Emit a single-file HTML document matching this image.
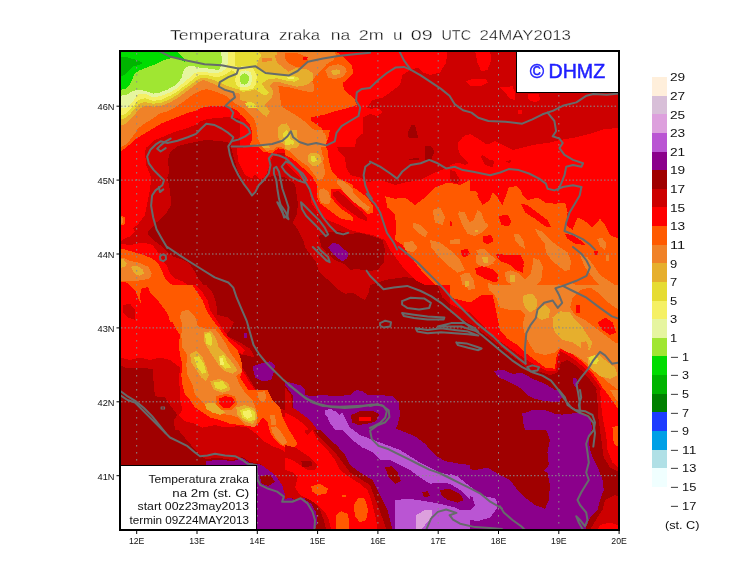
<!DOCTYPE html>
<html lang="hr"><head><meta charset="utf-8"><title>Temperatura zraka na 2m</title>
<style>
html,body{margin:0;padding:0;background:#fff;}
body{width:740px;height:582px;overflow:hidden;font-family:"Liberation Sans",sans-serif;}
svg{display:block;will-change:transform;}
svg text{font-family:"Liberation Sans",sans-serif;}
</style></head><body>
<svg width="740" height="582" viewBox="0 0 740 582">
<rect width="740" height="582" fill="#fff"/>
<defs><clipPath id="mapclip"><rect x="120" y="51" width="499" height="479"/></clipPath></defs>
<g clip-path="url(#mapclip)" shape-rendering="crispEdges">
<rect x="120" y="51" width="499" height="479" fill="#a00000"/>
<polygon fill="#8b008b" points="493.8,371.2 502.5,369.5 512.5,373.8 522.5,373.0 532.5,378.8 545.0,383.8 555.0,390.0 561.2,395.0 560.0,402.0 550.0,401.2 537.5,398.8 527.5,393.8 517.5,386.2 507.5,381.2 498.8,377.5"/>
<polygon fill="#8b008b" points="522.5,413.8 532.5,410.0 545.0,410.0 557.5,415.0 570.0,413.8 580.0,412.5 590.0,417.5 592.5,430.0 525.0,430.0 522.5,420.0"/>
<polygon fill="#8b008b" points="572.5,377.5 576.2,378.0 578.8,383.8 576.2,387.5 573.0,383.8"/>
<polygon fill="#8b008b" points="285.0,381.2 295.0,383.8 300.0,392.5 310.0,396.2 322.5,395.0 335.0,396.2 350.0,395.0 356.2,390.0 362.5,391.2 367.5,395.0 380.0,395.0 392.5,396.2 398.8,402.5 400.0,415.0 397.5,425.0 395.0,430.0 317.5,430.0 310.0,420.0 300.0,412.5 292.5,407.5 292.5,395.0 285.0,385.0"/>
<polygon fill="#8b008b" points="252.5,366.2 260.0,363.8 270.0,361.2 275.0,365.0 273.8,372.5 271.2,380.0 262.5,381.2 255.0,377.5"/>
<polygon fill="#8b008b" points="243.8,332.5 247.0,332.5 247.0,337.5 243.8,337.5"/>
<polygon fill="#8b008b" points="206.2,461.2 220.0,459.5 232.5,461.2 242.5,458.0 250.0,463.0 260.0,464.5 267.5,467.5 275.0,475.0 282.5,485.0 285.0,495.0 295.0,500.0 305.0,497.5 305.0,535.0 256.2,535.0 256.2,465.0 206.2,465.0"/>
<polygon fill="#8b008b" points="292.5,383.8 300.0,385.0 305.0,390.0 305.0,412.5 298.8,408.8 295.0,400.0 292.5,392.5"/>
<polygon fill="#8b008b" points="285.0,381.2 295.0,383.8 300.0,392.5 310.0,396.2 322.5,395.0 335.0,396.2 350.0,395.0 356.2,390.0 362.5,391.2 367.5,395.0 380.0,395.0 392.5,396.2 398.8,402.5 400.0,415.0 392.5,427.5 402.5,431.2 415.0,436.2 425.0,443.8 435.0,455.0 445.0,461.2 460.0,463.8 470.0,465.0 470.0,530.0 392.5,530.0 390.0,520.0 387.5,510.0 382.5,500.0 377.5,490.0 372.5,480.0 360.0,472.5 350.0,465.0 345.0,455.0 337.5,446.2 327.5,437.5 317.5,427.5 312.5,417.5 302.5,411.2 292.5,405.0 292.5,395.0"/>
<polygon fill="#8b008b" points="285.0,502.5 295.0,500.0 303.8,498.8 311.2,503.8 316.2,512.5 317.5,522.5 315.0,530.0 285.0,530.0"/>
<polygon fill="#8b008b" points="522.5,390.0 560.0,390.0 562.5,397.5 557.5,402.0 545.0,401.2 535.0,398.8 527.5,395.0"/>
<polygon fill="#8b008b" points="521.2,413.8 532.5,411.2 545.0,410.0 555.0,413.8 565.0,415.0 580.0,412.5 588.8,417.5 591.2,430.0 588.8,440.0 590.0,450.0 593.8,460.0 598.8,470.0 602.5,480.0 603.8,490.0 600.0,500.0 597.5,510.0 590.0,517.5 585.0,530.0 450.0,530.0 450.0,465.0 460.0,467.5 475.0,470.0 487.5,467.5 500.0,475.0 510.0,480.0 517.5,490.0 525.0,497.5 535.0,505.0 545.0,508.8 548.8,500.0 550.0,485.0 547.5,472.5 543.8,471.2 548.8,465.0 547.5,452.5 550.0,440.0 546.2,430.0 537.5,425.0 530.0,423.8 523.8,418.8"/>
<polygon fill="#ba55d3" points="325.0,410.0 331.2,408.8 338.8,415.0 342.5,412.5 346.2,420.0 351.2,430.0 335.0,430.0 328.8,421.2"/>
<polygon fill="#ba55d3" points="325.0,410.0 331.2,412.5 336.2,411.2 341.2,417.5 350.0,427.5 360.0,435.0 370.0,438.8 380.0,442.5 390.0,446.2 400.0,450.0 410.0,456.2 420.0,462.5 430.0,467.5 440.0,472.5 450.0,475.0 460.0,480.0 470.0,487.5 470.0,500.0 460.0,490.0 450.0,483.8 440.0,482.5 430.0,483.8 420.0,477.5 410.0,470.0 400.0,465.0 390.0,460.0 380.0,460.0 372.5,452.5 362.5,447.5 352.5,440.0 345.0,432.5 337.5,425.0 330.0,420.0 325.0,415.0"/>
<polygon fill="#ba55d3" points="395.0,500.0 410.0,498.8 425.0,501.2 440.0,503.8 455.0,507.5 470.0,515.0 470.0,530.0 395.0,530.0"/>
<polygon fill="#ba55d3" points="450.0,473.8 457.5,476.2 465.0,482.5 475.0,490.0 485.0,496.2 496.2,498.8 497.5,507.5 490.0,517.5 477.5,521.2 465.0,518.8 455.0,515.0 450.0,513.8 450.0,507.5 460.0,510.0 470.0,510.0 475.0,505.0 472.5,497.5 465.0,492.5 457.5,486.2 450.0,482.5"/>
<polygon fill="#dda0dd" points="416.2,515.0 425.0,510.0 432.5,510.0 431.2,517.5 425.0,525.0 421.2,530.0 416.2,530.0"/>
<polygon fill="#cd0000" points="120.0,140.0 170.0,140.0 168.0,155.0 168.8,172.5 167.5,177.5 170.0,190.0 171.2,205.0 165.0,215.0 155.0,223.8 147.5,232.5 145.0,236.2 152.5,240.0 160.0,247.5 167.5,257.5 170.0,265.0 173.8,275.0 185.0,278.8 197.5,285.0 120.0,285.0"/>
<polygon fill="#cd0000" points="450.0,285.0 450.0,312.5 460.0,317.5 472.5,325.0 482.5,332.5 495.0,342.5 507.5,352.5 517.5,360.0 527.5,368.8 537.5,371.2 550.0,375.0 557.5,372.5 561.2,362.5 567.5,360.0 575.0,365.0 582.5,371.2 590.0,380.0 597.5,390.0 602.5,400.0 606.2,410.0 610.0,420.0 612.5,430.0 635.0,430.0 635.0,285.0"/>
<polygon fill="#cd0000" points="333.8,285.0 370.0,285.0 368.8,292.5 365.0,300.0 360.0,297.5 352.5,292.5 345.0,293.8 338.8,290.0"/>
<polygon fill="#cd0000" points="437.5,285.0 470.0,285.0 470.0,320.0 460.0,312.5 450.0,305.0 442.5,297.5"/>
<polygon fill="#cd0000" points="285.0,387.5 291.2,395.0 292.5,407.5 300.0,412.5 310.0,420.0 317.5,430.0 285.0,430.0"/>
<polygon fill="#cd0000" points="120.0,285.0 206.2,285.0 212.5,292.5 216.2,302.5 217.5,315.0 227.5,317.5 233.8,322.5 230.0,330.0 225.0,335.0 232.5,338.8 240.0,342.5 250.0,348.8 255.0,357.5 245.0,355.0 235.0,353.8 233.8,360.0 240.0,365.0 245.0,371.2 250.0,380.0 256.2,390.0 265.0,391.2 267.5,397.5 270.0,405.0 275.0,407.5 282.5,412.5 285.0,425.0 290.0,430.0 175.0,430.0 173.8,420.0 177.5,415.0 170.0,405.0 165.0,397.5 155.0,396.2 153.8,385.0 152.5,368.8 132.5,367.5 125.0,367.5 120.0,365.0"/>
<polygon fill="#cd0000" points="155.0,396.2 165.0,397.5 170.0,405.0 177.5,415.0 173.8,420.0 176.2,427.5 182.5,435.0 190.0,443.8 197.5,452.5 205.0,458.8 220.0,458.0 232.5,460.0 242.5,457.0 250.0,462.0 260.0,463.8 270.0,471.2 277.5,477.5 282.5,486.2 285.0,495.0 295.0,499.5 305.0,497.5 305.0,416.2 295.0,413.0 285.0,410.0 275.0,407.5 270.0,405.0 267.5,397.5 265.0,391.2 256.2,390.0 155.0,390.0"/>
<polygon fill="#cd0000" points="285.0,410.0 292.5,412.5 302.5,417.5 310.0,425.0 317.5,435.0 327.5,445.0 335.0,452.5 342.5,462.5 350.0,472.5 360.0,478.8 370.0,485.0 373.8,495.0 377.5,505.0 381.2,515.0 385.0,525.0 386.2,530.0 326.2,530.0 323.8,520.0 320.0,510.0 313.8,501.2 305.0,496.2 295.0,497.0 285.0,498.8"/>
<polygon fill="#cd0000" points="596.2,390.0 635.0,390.0 635.0,472.5 617.5,471.2 610.0,467.5 603.8,457.5 602.0,445.0 600.0,430.0 598.0,415.0 597.5,402.5"/>
<polygon fill="#cd0000" points="605.0,500.0 615.0,495.0 620.0,497.5 635.0,497.5 635.0,530.0 590.0,530.0 597.5,517.5 602.5,510.0"/>
<polygon fill="#cd0000" points="120.0,50.0 620.0,50.0 620.0,472.0 617.5,471.0 610.0,467.5 603.8,457.5 602.0,445.0 600.0,430.0 598.0,415.0 597.5,402.5 597.5,390.0 590.0,380.0 582.5,371.0 575.0,365.0 567.5,360.0 561.0,362.5 557.5,372.5 550.0,375.0 537.5,371.0 527.5,369.0 517.5,360.0 507.5,352.5 495.0,342.5 482.5,332.5 472.5,325.0 470.0,320.0 460.0,312.5 450.0,305.0 442.5,297.5 437.5,285.0 425.0,280.0 405.0,277.0 385.0,280.0 370.0,285.0 368.8,292.5 365.0,300.0 360.0,297.5 352.5,292.5 345.0,293.8 338.8,290.0 333.8,285.0 319.2,272.0 315.7,261.4 310.4,254.4 305.0,247.3 303.4,240.3 298.0,229.8 292.8,222.7 296.4,215.7 298.0,205.0 296.4,192.8 295.0,184.0 285.0,177.5 275.0,175.0 267.5,177.5 262.5,182.5 256.0,190.0 251.0,196.0 247.5,190.0 242.5,180.0 237.5,170.0 233.0,155.0 230.0,143.0 220.0,141.0 205.0,140.0 192.5,142.5 177.5,146.0 170.0,152.5 168.0,160.0 120.0,160.0"/>
<polygon fill="#cd0000" points="120.0,225.0 150.8,225.0 147.5,234.2 153.3,240.0 160.0,245.0 166.7,251.7 173.3,256.7 181.7,259.2 188.3,262.5 193.3,269.2 198.3,278.3 205.0,286.7 211.7,293.3 215.8,301.7 215.0,311.7 216.7,322.0 120.0,322.0"/>
<polygon fill="#ff0000" points="120.0,50.0 243.0,50.0 243.0,120.0 231.7,116.7 223.3,117.5 215.0,118.0 206.7,119.2 200.0,121.7 195.0,125.0 186.7,128.3 175.0,131.7 163.3,136.7 153.3,140.8 147.5,147.0 120.0,147.0"/>
<polygon fill="#ff0000" points="120.0,140.0 147.5,140.0 145.0,152.5 146.2,165.0 151.2,177.5 150.0,190.0 147.5,202.5 145.0,215.0 137.5,225.0 126.2,232.5 122.5,238.8 120.0,240.0"/>
<polygon fill="#ff0000" points="120.0,243.8 130.0,245.0 142.5,242.5 152.5,245.0 160.0,255.0 165.0,265.0 168.8,275.0 170.0,285.0 120.0,285.0"/>
<polygon fill="#ff0000" points="285.0,140.0 335.0,140.0 337.5,150.0 345.0,157.5 346.2,167.5 350.5,175.0 360.0,177.5 367.5,182.0 380.0,180.0 395.0,185.0 405.0,182.5 420.0,180.0 435.0,172.5 447.5,167.5 460.0,168.8 470.0,171.2 470.0,285.0 425.0,285.0 415.0,280.0 405.0,270.0 397.5,260.0 390.0,250.0 385.0,240.0 372.5,235.0 360.0,232.5 350.0,230.0 340.0,225.0 327.5,220.0 317.5,212.5 311.2,202.5 310.0,192.5 305.0,182.5 295.0,172.5 285.0,162.5"/>
<polygon fill="#ff0000" points="340.0,50.0 447.5,50.0 446.2,62.5 440.0,72.5 430.0,75.0 422.5,72.5 417.5,67.5 410.0,70.0 402.5,75.0 400.0,85.0 390.0,92.5 382.5,97.5 372.5,100.0 367.5,107.5 377.5,111.2 377.5,116.2 370.0,113.8 362.5,117.5 355.0,125.0 347.5,122.5 340.0,125.0"/>
<polygon fill="#ff0000" points="372.5,107.5 380.0,108.8 382.5,112.5 377.5,115.5 373.8,112.5"/>
<polygon fill="#ff0000" points="457.5,145.0 462.5,137.5 470.0,133.8 480.0,140.0 487.5,145.0 495.0,141.2 502.5,145.0 512.5,150.0 525.0,147.5 525.0,167.5 515.0,165.0 510.0,160.0 502.5,162.5 490.0,160.0 482.5,155.0 475.0,160.0 465.0,157.5 460.0,152.5"/>
<polygon fill="#ff0000" points="635.0,127.5 605.0,128.8 590.0,133.8 575.0,137.5 560.0,140.0 550.0,142.5 532.5,145.0 522.5,147.5 512.5,150.0 511.2,163.8 503.8,161.2 497.5,156.2 496.2,167.5 487.5,170.0 475.0,171.2 462.5,168.8 450.0,166.2 450.0,195.0 635.0,195.0"/>
<polygon fill="#ff0000" points="457.5,142.5 465.0,135.0 472.5,136.2 475.0,145.0 480.0,155.0 485.0,165.0 475.0,167.5 465.0,160.0 458.8,152.5"/>
<polygon fill="#ff0000" points="485.0,145.0 492.5,142.5 496.2,150.0 495.0,160.0 490.0,157.5 486.2,150.0"/>
<polygon fill="#ff0000" points="475.0,50.0 490.0,50.0 491.2,60.0 487.5,70.0 481.2,71.2 477.5,62.5"/>
<polygon fill="#ff0000" points="466.2,81.2 472.5,78.8 486.2,79.5 488.0,82.5 482.5,85.5 470.0,85.5"/>
<polygon fill="#ff0000" points="500.0,87.5 512.5,86.2 515.0,92.5 515.0,100.0 510.0,98.8 505.0,92.5"/>
<polygon fill="#ff0000" points="527.5,93.8 538.8,93.8 540.0,100.0 535.0,102.5 528.8,100.0"/>
<polygon fill="#ff0000" points="517.5,110.0 522.5,109.5 522.0,113.8 518.0,113.8"/>
<polygon fill="#ff0000" points="450.0,285.0 450.0,303.8 460.0,308.8 470.0,312.5 480.0,322.5 490.0,332.5 500.0,341.2 512.5,350.0 525.0,358.8 535.0,365.0 547.5,371.2 556.2,371.2 557.5,360.0 560.0,351.2 567.5,355.0 575.0,360.0 582.5,366.2 590.0,373.8 597.5,383.8 605.0,395.0 610.0,405.0 615.0,415.0 618.8,425.0 620.0,430.0 635.0,430.0 635.0,285.0"/>
<polygon fill="#ff0000" points="441.2,285.0 470.0,285.0 470.0,310.0 460.0,305.0 450.0,297.5"/>
<polygon fill="#ff0000" points="285.0,412.5 295.0,417.5 305.0,425.0 308.8,430.0 285.0,430.0"/>
<polygon fill="#ff0000" points="120.0,285.0 195.0,285.0 202.5,292.5 207.5,300.0 210.0,310.0 215.0,317.5 220.0,325.0 225.0,332.5 230.0,338.8 237.5,343.8 245.0,350.0 242.5,353.8 233.8,352.5 232.5,360.0 238.8,365.0 243.8,372.5 248.8,381.2 255.0,390.0 263.8,390.0 266.2,395.0 267.5,402.5 270.0,405.0 272.5,410.0 280.0,415.0 282.5,425.0 285.0,430.0 256.2,430.0 247.5,427.5 237.5,426.2 225.0,427.5 215.0,425.0 202.5,427.5 195.0,423.8 185.0,421.2 178.8,415.0 182.5,410.0 180.0,400.0 180.0,390.0 178.8,380.0 180.0,367.5 170.0,360.0 160.0,357.5 150.0,360.0 140.0,357.5 130.0,360.0 120.0,357.5"/>
<polygon fill="#ff0000" points="182.5,390.0 180.0,400.0 182.5,410.0 178.8,415.0 185.0,421.2 195.0,423.8 202.5,427.5 215.0,425.0 225.0,427.5 237.5,426.2 247.5,427.5 256.2,433.8 263.8,441.2 272.5,446.2 282.5,450.0 290.0,456.2 300.0,458.8 305.0,456.2 305.0,425.0 295.0,421.2 285.0,417.5 280.0,415.0 272.5,410.0 270.0,405.0 267.5,402.5 266.2,395.0 263.8,390.0"/>
<polygon fill="#ff0000" points="285.0,417.5 292.5,422.5 300.0,427.5 307.5,435.0 312.5,430.0 317.5,440.0 327.5,450.0 335.0,460.0 340.0,470.0 350.0,477.5 360.0,483.8 367.5,490.0 371.2,500.0 373.8,510.0 376.2,520.0 377.5,530.0 331.2,530.0 328.8,520.0 325.0,512.5 317.5,505.0 310.0,500.0 300.0,495.0 295.0,487.5 297.5,477.5 292.5,472.5 285.0,470.0"/>
<polygon fill="#ff0000" points="600.0,390.0 635.0,390.0 635.0,470.0 620.0,468.8 612.5,462.5 607.5,450.0 606.2,435.0 603.0,420.0 601.2,405.0"/>
<polygon fill="#ff0000" points="600.0,525.0 610.0,522.5 617.5,525.0 635.0,525.0 635.0,530.0 597.5,530.0"/>
<polygon fill="#ff0000" points="245.8,130.0 336.7,130.0 338.3,136.7 336.7,143.3 338.3,151.7 341.7,160.0 345.0,168.3 350.0,175.0 353.0,177.5 353.0,225.8 346.7,224.2 338.3,221.7 330.0,216.7 323.3,211.7 316.7,205.0 313.3,196.7 315.0,188.3 314.2,180.0 311.7,173.3 306.7,167.5 300.0,163.3 293.3,157.5 286.7,153.3 280.0,152.5 273.3,155.0 270.8,160.0 269.2,166.7 266.7,173.3 263.3,178.3 259.2,179.2 255.0,174.2 250.0,168.3 245.8,161.7 244.2,155.0 243.3,146.7 239.2,137.5"/>
<polygon fill="#ff0000" points="120.0,225.0 131.7,225.0 135.0,231.7 130.0,236.7 125.0,238.3 120.0,241.7"/>
<polygon fill="#ff0000" points="120.0,246.7 130.0,248.3 138.3,250.0 146.7,251.7 155.0,255.0 161.7,260.0 166.7,265.0 170.0,273.3 175.0,278.3 183.3,281.7 190.0,286.7 195.0,295.0 201.7,300.0 206.7,308.3 208.3,316.7 209.2,322.0 141.7,322.0 140.0,318.3 135.0,311.7 128.3,303.3 123.3,305.0 120.0,308.3"/>
<polygon fill="#ff0000" points="450.0,165.0 457.5,162.5 465.0,165.0 475.0,160.0 480.0,157.5 485.0,165.0 492.5,167.5 495.0,160.0 496.2,155.0 500.0,162.5 507.5,165.0 512.5,160.0 512.5,150.0 635.0,150.0 635.0,295.0 450.0,295.0"/>
<polygon fill="#ff0000" points="240.0,50.0 363.0,50.0 363.0,133.3 356.7,138.3 355.0,147.0 240.0,147.0"/>
<polygon fill="#ff0000" points="236.7,148.1 255.3,148.1 262.1,154.9 258.7,168.4 251.9,178.6 245.2,175.2 238.4,161.6"/>
<polygon fill="#ff5a00" points="120.0,50.0 243.0,50.0 243.0,116.7 239.2,112.5 235.0,109.2 226.7,106.3 220.0,105.8 213.3,105.8 206.7,106.7 200.0,108.3 195.0,110.8 186.7,113.3 178.3,116.7 170.0,120.0 161.7,123.3 153.3,128.3 145.0,133.3 136.7,138.3 130.0,144.2 125.0,148.3 120.0,151.7"/>
<polygon fill="#ff5a00" points="240.0,50.0 333.3,50.0 343.3,56.7 351.7,65.0 353.3,73.3 348.3,78.3 342.5,83.3 344.2,90.0 350.0,95.0 355.0,100.0 356.7,105.0 346.7,108.3 333.3,111.7 323.3,115.0 311.7,117.0 310.3,120.0 315.0,123.3 321.7,128.3 325.0,133.3 326.7,140.0 325.8,147.0 252.5,147.0 250.0,144.7 251.7,140.0 252.0,132.0 250.0,125.0 243.5,117.0 240.0,114.2"/>
<polygon fill="#ff5a00" points="120.0,215.0 124.5,217.0 125.0,223.8 120.0,226.2"/>
<polygon fill="#ff5a00" points="285.0,140.0 322.5,140.0 327.5,150.0 328.8,160.0 331.2,170.0 337.5,177.5 347.5,183.8 357.5,190.0 367.5,197.5 372.5,205.0 372.5,212.5 365.0,215.0 355.0,212.5 345.0,215.0 335.0,207.5 327.5,205.0 320.0,202.5 317.5,195.0 318.8,187.5 312.5,177.5 302.5,167.5 292.5,158.8 285.0,155.0"/>
<polygon fill="#ff5a00" points="385.0,196.2 395.0,198.8 405.0,197.5 415.0,205.0 425.0,197.5 435.0,187.5 447.5,182.5 460.0,185.0 470.0,180.0 470.0,285.0 435.0,285.0 425.0,275.0 415.0,262.5 407.5,252.5 402.5,245.0 395.0,240.0 396.2,227.5 395.0,215.0 387.5,207.5"/>
<polygon fill="#ff5a00" points="507.5,195.0 510.0,187.5 516.2,186.2 521.2,191.2 522.5,195.0"/>
<polygon fill="#ff5a00" points="467.5,195.0 470.0,191.2 476.2,191.2 478.8,195.0"/>
<polygon fill="#ff5a00" points="450.0,193.8 457.5,200.0 465.0,205.0 472.5,191.2 477.5,196.2 482.5,205.0 490.0,200.0 492.5,192.5 497.5,197.5 502.5,205.0 508.8,187.5 515.0,186.2 522.5,195.0 527.5,200.0 537.5,197.5 545.0,202.5 555.0,203.8 565.0,202.5 567.5,212.5 566.2,225.0 572.5,230.0 577.5,217.5 585.0,221.2 592.5,227.5 600.0,218.8 605.0,225.0 610.0,235.0 618.8,238.8 635.0,240.0 635.0,295.0 450.0,295.0"/>
<polygon fill="#ff5a00" points="450.0,285.0 450.0,297.5 460.0,300.0 470.0,302.5 477.5,297.5 485.0,292.5 492.5,295.0 495.0,305.0 497.5,317.5 500.0,330.0 507.5,338.8 517.5,345.0 525.0,352.5 535.0,360.0 545.0,367.5 555.0,368.8 556.2,357.5 560.0,348.8 570.0,352.5 580.0,360.0 587.5,367.5 595.0,376.2 602.5,387.5 610.0,397.5 618.8,410.0 625.0,420.0 630.0,430.0 635.0,430.0 635.0,285.0"/>
<polygon fill="#ff5a00" points="457.5,285.0 470.0,285.0 470.0,295.0 465.0,291.2"/>
<polygon fill="#ff5a00" points="147.5,285.0 192.5,285.0 197.5,292.5 202.5,300.0 206.2,310.0 212.5,320.0 218.8,327.5 223.8,335.0 230.0,342.5 237.5,350.0 241.2,360.0 242.5,370.0 240.0,377.5 245.0,385.0 250.0,392.5 260.0,391.2 265.0,395.0 262.5,402.5 266.2,410.0 270.0,417.5 267.5,422.5 262.5,417.5 257.5,425.0 250.0,426.2 240.0,425.0 230.0,423.8 220.0,420.0 210.0,417.5 202.5,412.5 195.0,407.5 190.0,400.0 185.0,395.0 182.5,385.0 181.2,375.0 182.5,365.0 180.0,355.0 178.8,345.0 180.0,335.0 175.0,327.5 170.0,317.5 165.0,310.0 157.5,300.0 150.0,292.5"/>
<polygon fill="#ff5a00" points="192.5,390.0 190.0,400.0 195.0,407.5 202.5,412.5 210.0,417.5 220.0,420.0 230.0,423.8 240.0,425.0 250.0,426.2 257.5,425.0 262.5,417.5 267.5,422.5 270.0,432.5 275.0,440.0 282.5,446.2 292.5,448.8 297.5,443.8 292.5,435.0 287.5,427.5 282.5,417.5 280.0,407.5 272.5,400.0 267.5,390.0"/>
<polygon fill="#ff5a00" points="311.2,486.2 320.0,483.8 328.0,488.8 326.2,493.8 317.5,495.0 312.0,491.2"/>
<polygon fill="#ff5a00" points="336.2,515.0 341.2,511.2 347.5,513.8 349.5,522.5 348.8,530.0 336.2,530.0"/>
<polygon fill="#ff5a00" points="353.8,505.0 358.8,497.5 365.0,498.8 368.0,510.0 366.2,520.0 360.0,522.5 355.0,516.2"/>
<polygon fill="#ff5a00" points="342.0,495.0 346.2,495.0 346.2,497.0 342.0,497.0"/>
<polygon fill="#ff5a00" points="285.0,438.8 288.0,440.0 288.8,443.8 285.0,446.2"/>
<polygon fill="#ff5a00" points="605.0,390.0 635.0,390.0 635.0,410.0 620.0,408.8 615.0,402.5 610.0,397.5"/>
<polygon fill="#ff5a00" points="612.5,427.5 620.0,425.0 620.0,447.5 615.0,445.0 612.5,437.5"/>
<polygon fill="#ff5a00" points="251.7,130.0 330.0,130.0 328.3,138.3 325.0,146.7 326.7,155.0 328.3,163.3 330.0,171.7 336.7,178.3 346.7,181.7 353.0,185.0 353.0,220.8 346.7,220.0 340.0,218.3 333.3,213.3 326.7,208.3 320.0,203.3 316.7,196.7 317.5,186.7 316.7,178.3 313.3,170.0 308.3,165.0 301.7,161.7 295.0,155.0 286.7,150.0 278.3,148.3 271.7,153.3 263.3,151.7 256.7,145.8 253.3,138.3"/>
<polygon fill="#ff5a00" points="120.0,248.3 126.7,250.0 135.0,252.5 143.3,255.0 151.7,258.3 158.3,263.3 161.7,270.0 165.0,278.3 170.0,283.3 176.7,286.7 183.3,291.7 190.0,298.3 195.0,305.0 196.7,313.3 197.5,322.0 170.0,322.0 168.3,315.0 165.0,308.3 160.0,300.0 156.7,291.7 150.0,286.7 141.7,288.3 140.0,295.0 140.8,303.3 138.3,298.3 135.8,291.7 130.0,285.0 125.0,281.7 120.0,281.7"/>
<polygon fill="#f08228" points="120.0,50.0 243.0,50.0 243.0,108.3 239.2,105.8 235.0,103.3 230.0,99.2 226.7,96.3 220.0,93.3 213.3,90.8 206.7,89.2 201.7,90.0 196.7,92.5 190.0,96.7 183.3,101.7 175.0,107.5 166.7,111.7 160.0,113.3 153.3,118.3 145.0,123.3 138.3,128.3 135.0,133.3 130.0,140.0 125.0,145.0 120.0,147.8"/>
<polygon fill="#f08228" points="240.0,50.0 333.3,50.0 335.8,55.0 333.3,60.0 326.7,64.2 323.3,68.3 316.7,75.0 311.7,80.8 314.2,85.8 313.3,92.5 303.3,90.8 290.0,87.5 278.3,85.8 280.0,96.7 281.7,106.7 290.0,111.7 298.3,116.7 305.0,121.7 311.7,128.3 318.3,131.7 325.0,133.3 326.7,140.0 325.8,147.0 262.0,147.0 259.7,142.0 258.5,134.7 256.7,127.3 254.7,119.8 249.7,113.7 243.0,108.0 240.0,106.3"/>
<polygon fill="#f08228" points="325.0,70.0 330.0,65.8 338.3,64.2 345.0,66.7 346.7,71.7 343.3,76.7 335.0,79.2 328.3,77.5"/>
<polygon fill="#f08228" points="120.0,217.0 123.0,218.0 123.0,223.0 120.0,224.5"/>
<polygon fill="#f08228" points="306.2,150.0 317.5,148.8 323.8,157.5 322.5,167.5 325.0,175.0 320.0,177.5 312.5,170.0 307.5,162.5"/>
<polygon fill="#f08228" points="320.0,191.2 326.2,190.0 328.8,197.5 326.2,203.8 321.2,202.5 318.8,196.2"/>
<polygon fill="#f08228" points="341.2,182.5 347.5,183.8 352.5,192.5 360.0,200.0 370.0,207.5 367.5,211.2 357.5,205.0 347.5,197.5 342.5,190.0"/>
<polygon fill="#f08228" points="412.5,222.5 420.0,225.0 427.5,232.5 425.0,237.5 417.5,232.5 412.5,227.5"/>
<polygon fill="#f08228" points="403.8,242.5 412.5,241.2 417.5,247.5 412.5,252.5 405.0,250.0"/>
<polygon fill="#f08228" points="432.5,210.0 440.0,207.5 445.0,217.5 442.5,225.0 435.0,222.5"/>
<polygon fill="#f08228" points="430.0,240.0 440.0,242.5 450.0,250.0 460.0,260.0 465.0,270.0 457.5,272.5 447.5,265.0 437.5,255.0 431.2,247.5"/>
<polygon fill="#f08228" points="457.5,212.5 465.0,215.0 470.0,222.5 470.0,230.0 462.5,225.0"/>
<polygon fill="#f08228" points="450.0,240.0 460.0,238.8 460.0,243.8 451.2,243.8"/>
<polygon fill="#f08228" points="460.0,275.0 470.0,272.5 470.0,285.0 462.5,285.0"/>
<polygon fill="#f08228" points="458.8,211.2 465.0,212.5 468.8,222.5 473.8,220.0 477.5,210.0 481.2,212.5 485.0,222.5 488.8,225.0 482.5,232.5 475.0,236.2 467.5,233.8 462.5,225.0"/>
<polygon fill="#f08228" points="450.0,240.0 457.5,239.5 458.8,243.0 450.0,243.8"/>
<polygon fill="#f08228" points="513.8,233.8 518.8,233.8 523.8,241.2 525.0,248.8 520.0,246.2 515.0,240.0"/>
<polygon fill="#f08228" points="535.0,228.8 541.2,231.2 550.0,240.0 560.0,247.5 567.5,252.5 570.0,260.0 567.5,267.5 560.0,265.0 552.5,260.0 546.2,252.5 545.0,243.8 538.8,236.2"/>
<polygon fill="#f08228" points="476.2,250.0 483.8,248.8 490.0,255.0 493.8,263.8 487.5,265.0 480.0,260.0"/>
<polygon fill="#f08228" points="450.0,256.2 457.5,260.0 462.5,265.0 460.0,268.8 452.5,267.5 450.0,266.2"/>
<polygon fill="#f08228" points="532.5,257.5 537.5,260.0 542.5,270.0 541.2,280.0 535.0,286.2 530.0,280.0 532.5,270.0"/>
<polygon fill="#f08228" points="506.2,273.8 515.0,272.5 522.5,277.5 520.0,283.8 511.2,283.8 506.2,278.8"/>
<polygon fill="#f08228" points="462.5,273.8 468.8,272.5 473.8,280.0 475.0,288.8 468.8,290.0 463.8,283.8"/>
<polygon fill="#f08228" points="487.5,282.5 495.0,286.2 500.0,293.8 495.0,295.0 488.8,290.0"/>
<polygon fill="#f08228" points="597.5,238.8 602.5,237.5 606.2,245.0 605.0,250.0 600.0,246.2"/>
<polygon fill="#f08228" points="580.0,255.0 587.5,257.5 595.0,267.5 600.0,275.0 607.5,280.0 615.0,285.0 615.0,295.0 607.5,295.0 600.0,286.2 592.5,277.5 585.0,267.5"/>
<polygon fill="#f08228" points="606.2,255.0 608.8,255.0 608.8,261.2 606.2,261.2"/>
<polygon fill="#f08228" points="567.5,282.5 575.0,283.8 577.5,288.8 570.0,290.0"/>
<polygon fill="#f08228" points="487.5,285.0 635.0,285.0 635.0,317.5 625.0,312.5 615.0,307.5 605.0,300.0 597.5,292.5 590.0,287.5 580.0,290.0 572.5,297.5 570.0,307.5 575.0,315.0 585.0,320.0 595.0,327.5 605.0,335.0 615.0,342.5 625.0,345.0 635.0,347.5 635.0,402.5 625.0,395.0 615.0,387.5 605.0,380.0 597.5,372.5 590.0,366.2 582.5,360.0 575.0,355.0 565.0,351.2 560.0,347.5 555.0,352.5 545.0,355.0 535.0,352.5 530.0,345.0 525.0,335.0 522.5,325.0 525.0,315.0 520.0,310.0 510.0,310.0 500.0,307.5 496.2,297.5 490.0,290.0"/>
<polygon fill="#f08228" points="181.2,312.5 188.8,310.0 195.0,316.2 198.0,326.2 206.2,328.8 215.0,328.8 220.0,335.0 225.0,342.5 230.0,352.5 237.5,362.5 242.5,371.2 236.2,376.2 240.0,385.0 245.0,392.5 252.5,400.0 256.2,410.0 257.5,420.0 255.0,427.5 245.0,425.0 237.5,417.5 230.0,415.0 220.0,413.8 210.0,410.0 202.5,402.5 195.0,395.0 192.5,385.0 187.5,375.0 186.2,365.0 187.5,355.0 182.5,347.5 181.2,335.0 182.5,325.0 180.0,317.5"/>
<polygon fill="#f08228" points="257.5,392.5 265.0,391.2 266.2,397.5 263.8,402.5 258.8,400.0"/>
<polygon fill="#f08228" points="270.0,415.0 275.0,415.0 276.2,425.0 271.2,425.0"/>
<polygon fill="#f08228" points="271.2,427.5 276.2,426.2 282.5,433.8 287.5,442.5 282.5,445.0 276.2,438.8 272.5,432.5"/>
<polygon fill="#f08228" points="610.0,390.0 635.0,390.0 635.0,401.2 617.5,401.2 613.8,396.2"/>
<polygon fill="#f08228" points="256.7,130.0 323.3,130.0 323.3,138.3 320.8,146.7 322.5,155.0 323.3,163.3 325.0,171.7 323.3,178.3 318.3,180.0 313.3,173.3 308.3,166.7 303.3,163.3 296.7,158.3 290.0,151.7 283.3,148.3 278.3,145.8 273.3,150.0 266.7,150.8 261.7,146.7 258.3,140.0"/>
<polygon fill="#f08228" points="319.2,190.0 323.3,188.3 328.3,191.7 330.8,198.3 330.0,203.3 325.0,204.2 320.8,200.0 319.2,195.0"/>
<polygon fill="#f08228" points="336.7,180.0 343.3,180.8 350.0,186.7 353.0,190.0 353.0,196.7 346.7,194.2 341.7,188.3 337.5,184.2"/>
<polygon fill="#f08228" points="120.0,257.5 125.0,258.3 130.0,260.8 138.3,262.5 148.3,266.7 151.7,273.3 150.0,278.3 143.3,280.0 136.7,280.8 128.3,280.8 120.0,280.8"/>
<polygon fill="#f08228" points="181.7,311.7 186.7,310.0 191.7,313.3 193.3,322.0 181.7,322.0"/>
<polygon fill="#f08228" points="504.5,272.2 510.6,270.2 518.7,273.3 524.8,279.3 530.9,273.3 532.9,263.1 539.0,259.1 543.0,267.2 541.0,279.3 534.9,287.5 528.8,293.5 530.9,301.7 522.7,307.7 518.7,295.6 512.6,285.4 506.5,281.4"/>
<polygon fill="#f08228" points="476.1,255.0 490.3,255.0 496.4,259.1 490.3,265.1 482.2,267.2 476.1,263.1"/>
<polygon fill="#f08228" points="545.0,240.0 552.4,243.7 559.9,247.4 567.4,252.4 571.1,261.1 569.9,269.8 564.9,271.0 558.7,266.1 552.4,261.1 547.5,254.9 545.0,247.4"/>
<polygon fill="#f08228" points="597.2,238.7 602.2,238.1 605.9,242.4 606.5,248.7 603.4,247.4 599.1,243.7"/>
<polygon fill="#e6af2d" points="120.0,50.0 243.0,50.0 243.0,94.7 236.7,93.0 228.3,90.0 220.0,87.5 215.0,84.2 208.3,81.7 203.3,80.0 198.3,82.5 191.7,87.5 185.0,92.5 178.3,97.5 170.0,102.5 161.7,105.8 153.3,106.7 145.0,105.8 140.0,108.3 135.0,114.2 130.0,119.2 125.0,124.2 120.0,126.0"/>
<polygon fill="#e6af2d" points="330.8,70.8 336.7,69.2 340.8,70.8 339.2,74.2 333.3,75.0"/>
<polygon fill="#e6af2d" points="240.0,50.0 278.3,50.0 275.8,56.7 280.0,65.0 288.3,71.7 295.0,68.3 306.7,69.2 313.3,73.3 313.3,80.0 306.7,85.0 296.7,86.7 286.7,84.2 278.3,81.7 273.3,81.7 270.0,85.8 273.3,91.7 271.7,98.3 265.0,105.0 258.3,108.3 253.3,103.3 246.7,101.7 240.0,100.0"/>
<polygon fill="#e6af2d" points="277.5,128.3 281.7,124.2 286.7,123.3 290.0,128.3 291.7,136.7 290.0,143.3 285.0,145.0 280.0,141.7 277.5,135.0"/>
<polygon fill="#e6af2d" points="256.7,100.0 265.0,105.0 270.0,111.7 266.7,116.7 261.7,113.3 256.7,108.3"/>
<polygon fill="#e6af2d" points="308.8,153.8 316.2,152.5 320.0,158.8 317.5,165.0 311.2,163.8"/>
<polygon fill="#e6af2d" points="285.0,140.0 296.2,140.0 295.0,146.2 288.8,150.0 285.0,148.8"/>
<polygon fill="#e6af2d" points="482.5,257.5 487.5,257.0 488.0,262.5 483.8,263.0"/>
<polygon fill="#e6af2d" points="510.0,276.2 515.0,276.2 515.5,282.0 510.5,282.0"/>
<polygon fill="#e6af2d" points="465.0,281.2 468.8,280.8 469.2,286.2 465.5,286.8"/>
<polygon fill="#e6af2d" points="475.0,230.0 478.0,230.0 478.0,231.5 475.0,231.5"/>
<polygon fill="#e6af2d" points="523.8,295.0 532.5,293.8 537.5,300.0 536.2,308.8 530.0,312.5 525.0,307.5 522.5,300.0"/>
<polygon fill="#e6af2d" points="536.2,310.0 545.0,305.0 550.0,310.0 548.8,317.5 541.2,320.0 536.2,316.2"/>
<polygon fill="#e6af2d" points="552.5,317.5 560.0,311.2 570.0,312.5 575.0,320.0 582.5,327.5 587.5,335.0 592.5,342.5 590.0,350.0 580.0,347.5 572.5,342.5 562.5,340.0 555.0,332.5 552.5,325.0"/>
<polygon fill="#e6af2d" points="587.5,357.5 597.5,353.8 605.0,360.0 615.0,367.5 617.5,375.0 610.0,378.8 600.0,376.2 592.5,370.0 587.5,365.0"/>
<polygon fill="#e6af2d" points="203.8,332.5 211.2,331.2 216.2,338.8 218.8,347.5 225.0,353.8 231.2,361.2 237.5,370.0 232.5,373.8 225.0,371.2 218.8,365.0 213.8,357.5 208.8,350.0 203.8,341.2"/>
<polygon fill="#e6af2d" points="190.0,353.8 196.2,351.2 202.5,357.5 206.2,366.2 208.8,375.0 206.2,381.2 201.2,377.5 196.2,370.0 191.2,362.5"/>
<polygon fill="#e6af2d" points="210.0,381.2 220.0,378.8 228.8,383.8 230.0,390.0 222.5,392.5 213.8,390.0"/>
<polygon fill="#e6af2d" points="205.0,403.8 212.5,402.5 220.0,406.2 225.0,412.5 220.0,415.0 212.5,412.5 206.2,408.8"/>
<polygon fill="#e6af2d" points="236.2,407.5 245.0,405.0 255.0,408.8 257.5,417.5 252.5,423.8 243.8,421.2 237.5,415.0"/>
<polygon fill="#e6af2d" points="277.5,130.0 296.7,130.0 296.7,136.7 300.0,143.3 296.7,148.3 290.0,146.7 285.0,142.5 280.0,140.0 277.5,135.0"/>
<polygon fill="#e6af2d" points="307.5,155.0 313.3,152.5 320.0,155.0 321.7,161.7 318.3,165.8 312.5,165.8 308.3,161.7"/>
<polygon fill="#e6af2d" points="261.7,145.8 268.3,145.0 270.0,147.5 263.3,148.3"/>
<polygon fill="#e6af2d" points="120.0,258.3 123.3,259.2 126.7,263.3 125.0,266.7 120.0,268.3"/>
<polygon fill="#e6af2d" points="130.8,266.7 136.7,265.8 142.5,269.2 144.2,273.3 140.0,275.8 135.0,274.2"/>
<polygon fill="#e6af2d" points="482.2,257.0 487.2,257.4 487.8,261.5 483.2,262.1"/>
<polygon fill="#e6af2d" points="510.2,275.3 514.6,275.3 515.0,281.4 510.6,281.0"/>
<polygon fill="#e6dc32" points="120.0,50.0 243.0,50.0 243.0,90.0 236.7,89.2 226.7,85.8 218.3,82.0 213.3,80.0 206.7,78.0 201.7,77.5 196.7,80.0 190.0,85.3 183.3,90.0 177.5,94.7 170.0,99.2 161.7,102.5 153.3,103.7 145.0,102.0 139.2,103.7 135.0,108.3 130.0,114.2 125.0,118.3 120.0,119.8"/>
<polygon fill="#e6dc32" points="282.5,133.3 286.7,130.0 289.7,135.0 289.2,141.7 285.0,143.3"/>
<polygon fill="#e6dc32" points="245.0,103.3 250.0,101.7 255.0,104.2 256.7,107.5 250.0,108.3 246.7,106.7"/>
<polygon fill="#e6dc32" points="240.0,50.0 256.7,50.0 261.7,55.0 258.3,60.0 256.7,66.7 266.7,72.5 281.7,75.0 296.7,76.7 300.0,79.2 295.0,81.7 286.7,80.8 276.7,78.3 268.3,79.2 261.7,83.3 265.0,88.3 269.2,92.5 265.0,95.8 258.3,91.7 255.0,89.2 250.0,90.8 243.3,91.7 240.0,91.3"/>
<polygon fill="#e6dc32" points="310.8,156.2 315.0,155.5 316.2,160.5 312.0,161.2"/>
<polygon fill="#e6dc32" points="285.0,140.0 291.2,140.0 290.0,145.0 285.0,145.5"/>
<polygon fill="#e6dc32" points="588.8,357.5 595.0,355.0 598.8,360.0 596.2,364.5 590.5,363.0"/>
<polygon fill="#e6dc32" points="205.0,333.8 210.0,333.0 212.5,340.0 211.2,346.2 206.2,343.8"/>
<polygon fill="#e6dc32" points="193.8,357.5 198.8,356.2 203.8,363.8 206.2,372.5 202.5,373.8 197.5,367.5"/>
<polygon fill="#e6dc32" points="218.8,356.2 223.8,355.0 227.5,362.5 231.2,367.5 225.0,368.8 220.0,363.8"/>
<polygon fill="#e6dc32" points="213.8,382.5 222.5,381.2 227.5,387.5 221.2,390.0 215.0,387.5"/>
<polygon fill="#e6dc32" points="240.0,410.0 248.8,407.5 255.0,412.5 255.0,420.0 248.8,421.2 242.5,417.5"/>
<polygon fill="#e6dc32" points="282.5,133.3 287.5,132.5 290.0,138.3 294.2,141.7 293.3,145.0 288.3,143.3 285.0,139.2"/>
<polygon fill="#e6dc32" points="310.8,157.5 315.0,156.7 316.7,160.8 313.3,162.5 310.8,160.8"/>
<polygon fill="#f5f064" points="120.0,50.0 235.0,50.0 234.7,60.0 235.3,65.8 243.0,68.7 243.0,88.7 236.7,85.8 235.0,80.0 236.7,73.3 231.7,70.0 226.7,73.7 220.0,76.7 213.3,76.7 206.7,75.0 200.0,75.0 195.0,77.5 188.3,83.3 182.5,87.5 176.7,92.0 170.0,95.8 161.7,99.7 153.3,100.8 145.0,98.3 138.3,100.0 134.2,105.0 130.0,110.0 125.0,114.2 120.0,115.5"/>
<polygon fill="#f5f064" points="240.0,66.7 246.7,65.8 253.3,68.3 256.7,75.0 256.3,83.3 253.3,88.3 246.7,90.0 240.0,89.7"/>
<polygon fill="#f5f064" points="286.7,76.7 293.3,76.7 294.2,78.7 288.3,79.2"/>
<polygon fill="#f5f064" points="220.0,357.5 223.0,357.5 223.8,365.0 220.5,364.5"/>
<polygon fill="#f5f064" points="242.5,411.2 250.0,410.0 252.5,416.2 247.5,418.8 243.8,416.2"/>
<polygon fill="#e6f5a0" points="120.0,50.0 228.0,50.0 228.3,60.0 226.7,68.3 221.7,71.7 216.7,73.3 208.3,72.5 200.0,71.7 194.2,73.3 190.8,76.7 185.8,80.8 181.7,84.2 176.7,88.7 170.0,92.5 161.7,95.8 153.3,97.5 145.0,93.7 138.3,94.2 135.0,98.3 131.7,103.3 126.7,107.5 120.0,108.3"/>
<polygon fill="#e6f5a0" points="240.0,71.7 245.8,70.3 250.8,72.5 252.5,78.3 250.8,85.0 245.8,87.5 240.0,86.7"/>
<polygon fill="#a0e632" points="120.0,50.0 220.8,50.0 222.0,60.0 221.0,66.7 218.3,70.0 210.0,68.7 200.0,67.7 193.3,66.0 186.7,66.7 183.3,70.8 182.0,76.7 179.2,81.7 175.0,85.3 168.3,89.2 160.0,92.5 153.3,93.7 146.7,91.3 138.3,89.7 132.5,91.3 126.7,94.7 120.0,95.8"/>
<polygon fill="#a0e632" points="240.8,75.0 245.0,73.3 248.3,75.0 249.2,79.2 247.5,83.3 244.2,84.7 240.8,83.3 240.0,79.2"/>
<polygon fill="#00dc00" points="120.0,50.0 177.5,50.0 178.3,53.3 184.2,59.2 184.7,61.7 180.8,60.0 175.0,58.0 168.3,58.7 162.5,60.8 155.8,64.2 146.7,67.5 138.3,70.8 133.7,75.0 132.0,80.0 129.2,85.8 125.0,89.2 120.0,89.7"/>
<polygon fill="#00b400" points="120.0,57.0 127.5,57.5 135.8,59.7 143.7,63.0 137.5,65.3 132.5,66.7 128.3,70.8 124.2,75.0 120.0,77.0"/>
<polygon fill="#ff5a00" points="285.0,53.3 295.0,52.5 306.7,56.7 308.3,61.7 303.3,66.7 295.0,66.7 288.3,63.3 285.0,58.3"/>
<polygon fill="#ff0000" points="302.5,57.0 307.5,57.5 306.7,60.0 303.3,59.7"/>
<polygon fill="#f08228" points="261.7,58.3 271.7,58.0 272.5,61.3 262.5,61.7"/>
<polygon fill="#f08228" points="275.0,55.0 283.3,54.2 285.8,60.0 284.2,66.7 279.2,65.0 275.8,60.0"/>
<polygon fill="#a00000" points="411.2,125.0 415.0,125.0 418.0,137.5 408.8,138.0 407.5,133.8"/>
<polygon fill="#a00000" points="425.0,146.2 431.2,146.2 434.5,151.2 431.2,160.0 425.0,160.0"/>
<polygon fill="#a00000" points="408.8,158.8 418.8,158.0 419.5,160.0 410.0,160.5"/>
<polygon fill="#ff0000" points="521.2,203.8 527.5,205.0 537.5,212.5 547.5,220.0 551.2,227.5 545.0,226.2 535.0,218.8 525.0,212.5"/>
<polygon fill="#ff0000" points="498.8,216.2 507.5,214.5 511.2,221.2 508.8,226.2 501.2,225.0"/>
<polygon fill="#ff0000" points="482.5,236.2 491.2,235.0 493.8,241.2 487.5,244.5 482.5,241.2"/>
<polygon fill="#ff0000" points="461.2,250.0 467.5,248.8 470.0,253.8 465.0,257.5 461.2,255.0"/>
<polygon fill="#ff0000" points="496.2,253.8 507.5,255.0 517.5,257.5 523.8,265.0 522.5,272.5 515.0,270.0 507.5,262.5 498.8,260.0"/>
<polygon fill="#ff0000" points="475.0,267.5 482.5,268.8 492.5,273.8 498.8,280.0 495.0,282.5 485.0,278.8 476.2,273.8"/>
<polygon fill="#ff0000" points="565.0,233.8 572.5,235.0 580.0,240.0 585.0,245.0 575.0,243.8 567.5,238.8"/>
<polygon fill="#ff0000" points="593.8,251.2 597.5,251.2 598.0,255.0 594.5,255.0"/>
<polygon fill="#ff0000" points="450.0,221.2 452.5,222.5 452.0,226.2 450.0,226.2"/>
<polygon fill="#ff0000" points="597.5,322.5 605.0,317.5 612.5,322.5 616.2,332.5 610.0,335.0 602.5,330.0"/>
<polygon fill="#ff0000" points="576.2,305.0 579.5,305.0 580.0,312.5 576.5,312.5"/>
<polygon fill="#f08228" points="581.2,342.5 586.2,341.2 588.8,347.5 585.0,350.5 581.2,347.5"/>
<polygon fill="#a00000" points="351.2,417.5 360.0,412.5 372.5,411.2 378.8,415.0 376.2,421.2 367.5,423.8 357.5,425.0 352.5,422.5"/>
<polygon fill="#ff0000" points="358.8,418.0 371.2,417.5 371.2,420.5 359.2,420.8"/>
<polygon fill="#cd0000" points="122.5,305.0 130.0,303.8 135.0,310.0 135.0,320.0 127.5,317.5 122.5,312.5"/>
<polygon fill="#ff5a00" points="216.2,396.2 226.2,393.8 235.0,396.2 237.5,403.8 231.2,410.0 221.2,410.0 216.2,405.0"/>
<polygon fill="#ff0000" points="218.8,398.8 225.0,396.2 232.5,397.5 235.0,402.5 230.0,407.5 222.5,407.5 218.8,403.8"/>
<polygon fill="#a00000" points="260.0,476.2 270.0,474.5 275.0,482.0 268.0,486.2 261.2,483.0"/>
<polygon fill="#a00000" points="351.2,415.0 360.0,411.2 372.5,410.5 378.8,413.8 376.2,421.2 367.5,423.8 357.5,425.0 352.5,421.2"/>
<polygon fill="#ff0000" points="358.8,417.5 371.2,417.0 371.2,420.5 359.2,420.8"/>
<polygon fill="#a00000" points="385.0,467.5 391.2,466.2 397.5,472.5 401.2,481.2 395.0,483.8 388.8,477.5"/>
<polygon fill="#a00000" points="440.0,490.0 450.0,488.8 460.0,493.8 463.8,500.0 457.5,502.5 447.5,500.0 441.2,495.0"/>
<polygon fill="#a00000" points="422.5,492.5 427.5,491.2 430.0,496.2 423.8,497.0"/>
<polygon fill="#cd0000" points="285.0,445.0 295.0,447.5 302.5,452.5 310.0,457.5 317.5,465.0 315.0,470.0 307.5,470.0 300.0,465.0 292.5,460.0 285.0,457.5"/>
<polygon fill="#a00000" points="301.2,460.5 311.2,461.2 312.5,466.2 302.5,467.0"/>
<polygon fill="#a00000" points="318.8,236.2 327.5,232.5 340.0,231.2 350.0,233.8 360.0,233.0 372.5,236.2 382.5,240.0 385.0,250.0 383.8,262.5 377.5,270.0 367.5,271.2 357.5,268.8 350.0,270.0 343.8,263.8 335.0,260.0 327.5,253.8 321.2,246.2"/>
<polygon fill="#8b008b" points="328.0,247.3 332.4,242.9 338.5,243.8 343.8,249.1 348.2,252.6 347.3,257.9 342.9,261.4 338.5,258.8 333.3,254.4"/>
<polygon fill="#cd0000" points="450.0,170.0 455.0,171.2 460.0,180.0 457.5,183.8 450.0,181.2"/>
<polygon fill="#ff0000" points="495.4,255.0 520.7,255.0 524.8,263.1 518.7,267.2 510.6,265.1 500.4,261.1"/>
<polygon fill="#ff0000" points="475.1,268.2 482.2,266.2 492.3,269.2 498.4,275.3 494.3,281.4 486.2,279.3 478.1,275.3"/>
<polygon fill="#ff0000" points="330.6,189.3 339.4,188.5 347.3,195.5 354.4,202.5 363.1,209.5 371.1,217.5 369.3,223.6 358.8,221.0 350.0,214.8 342.1,209.5 335.0,202.5 330.6,196.4"/>
<polygon fill="#cd0000" points="333.3,192.0 338.5,191.1 345.6,197.2 352.6,204.3 361.4,211.3 367.5,217.8 366.7,221.0 359.6,218.3 350.8,212.2 343.8,206.9 336.8,199.9 333.3,195.5"/>
</g>
<g clip-path="url(#mapclip)" fill="none" stroke="#8c8c8c" stroke-width="1">
<line x1="136.7" y1="52" x2="136.7" y2="529" stroke-dasharray="1.6 5.4" stroke-dashoffset="-1"/>
<line x1="197.0" y1="52" x2="197.0" y2="529" stroke-dasharray="1.6 5.4" stroke-dashoffset="-1"/>
<line x1="257.3" y1="52" x2="257.3" y2="529" stroke-dasharray="1.6 5.4" stroke-dashoffset="-1"/>
<line x1="317.6" y1="52" x2="317.6" y2="529" stroke-dasharray="1.6 5.4" stroke-dashoffset="-1"/>
<line x1="377.9" y1="52" x2="377.9" y2="529" stroke-dasharray="1.6 5.4" stroke-dashoffset="-1"/>
<line x1="438.2" y1="52" x2="438.2" y2="529" stroke-dasharray="1.6 5.4" stroke-dashoffset="-1"/>
<line x1="498.5" y1="52" x2="498.5" y2="529" stroke-dasharray="1.6 5.4" stroke-dashoffset="-1"/>
<line x1="558.8" y1="52" x2="558.8" y2="529" stroke-dasharray="1.6 5.4" stroke-dashoffset="-1"/>
<line x1="121" y1="106.2" x2="618" y2="106.2" stroke-dasharray="1.5 2"/>
<line x1="121" y1="180.1" x2="618" y2="180.1" stroke-dasharray="1.5 2"/>
<line x1="121" y1="254.0" x2="618" y2="254.0" stroke-dasharray="1.5 2"/>
<line x1="121" y1="327.9" x2="618" y2="327.9" stroke-dasharray="1.5 2"/>
<line x1="121" y1="401.8" x2="618" y2="401.8" stroke-dasharray="1.5 2"/>
<line x1="121" y1="475.7" x2="618" y2="475.7" stroke-dasharray="1.5 2"/>
</g>
<g clip-path="url(#mapclip)" fill="none" stroke="#666b6b" stroke-linejoin="round" stroke-linecap="round">
<polyline points="157.2,50.0 170.7,56.8 187.7,60.8 204.6,64.2 221.5,65.2 238.4,68.6 255.3,66.2 265.5,73.0 279.0,74.4 289.1,75.4 297.6,71.0 307.8,61.8 323.0,58.5 339.9,55.8 356.8,54.1 370.0,52.7" stroke-width="2.0"/>
<polyline points="238.4,68.6 236.7,73.7 228.3,77.1 219.8,82.1 218.8,86.5 224.9,89.9 233.3,92.3 235.0,97.4 229.9,101.4 225.5,105.8 229.9,108.2 233.3,112.6 231.6,117.7 236.7,121.0 243.5,123.7 248.6,128.5 250.2,132.9 245.2,136.3 238.4,139.6 231.6,141.3" stroke-width="2.0"/>
<polyline points="231.6,141.3 233.3,137.3 228.3,132.9 221.5,128.5 214.7,125.1 206.3,123.7 201.2,128.5 196.1,133.9 187.7,137.3 177.5,140.7 167.4,143.0 160.6,141.3 155.5,144.7 150.4,149.8 147.1,156.6 148.8,163.3 153.8,170.1 158.9,175.2 164.0,180.2 162.3,185.3 155.5,190.4 152.1,195.5 151.1,205.6 153.2,217.5 156.5,229.3 162.3,239.4 167.4,247.9" stroke-width="2.0"/>
<polyline points="170.7,138.6 165.7,141.3 160.6,145.4 157.2,148.8 160.6,151.5 165.7,148.1" stroke-width="2.0"/>
<polyline points="158.9,187.0 159.9,192.1 163.3,189.4" stroke-width="2.0"/>
<polyline points="231.6,141.3 228.3,146.4 229.9,154.9 233.3,165.0 238.4,175.2 243.5,183.6 248.6,190.4 251.9,195.5 255.3,192.1 258.7,185.3 263.8,180.2 268.8,173.5 270.5,165.0 268.8,158.3 272.2,154.2" stroke-width="2.0"/>
<polyline points="231.6,146.4 245.2,146.4 258.7,145.4 272.2,144.0 282.4,140.7 287.5,136.3 290.8,131.2 293.2,137.3 299.3,142.0 307.8,144.7 316.2,143.0 326.4,145.4 334.8,141.3 336.5,132.9 341.6,126.1 350.0,121.0 358.5,116.0 360.2,107.5 356.1,100.7 356.8,92.3 361.9,88.9 370.0,87.9" stroke-width="2.0"/>
<polyline points="272.2,154.2 279.0,155.5 285.8,158.3 292.5,165.0 299.3,171.8 304.4,180.2 309.4,188.7 312.8,198.8 317.9,209.0 323.0,217.5 329.7,225.9 336.5,232.7 343.3,234.4 348.3,232.7" stroke-width="2.0"/>
<polyline points="273.9,168.4 276.3,166.7 279.0,171.8 280.7,180.2 282.4,188.7 285.8,198.8 288.5,207.3 287.5,215.8 284.1,217.5 281.7,209.0 279.0,198.8 277.3,188.7 276.3,180.2 273.9,173.5 273.9,168.4" stroke-width="2.0"/>
<polyline points="281.7,166.7 285.8,161.6 290.8,163.3 295.9,168.4 302.7,173.5 306.1,178.6 304.4,182.6 297.6,180.2 290.8,176.9 285.1,171.8 281.7,166.7" stroke-width="2.0"/>
<polyline points="301.0,202.2 306.1,207.3 312.8,214.1 319.6,220.8 324.7,227.6 328.1,234.4 325.7,236.1 319.6,229.3 312.8,222.5 306.1,215.8 302.0,209.0 301.0,202.2" stroke-width="2.0"/>
<polyline points="277.3,202.2 280.7,209.0 284.1,215.8 288.5,219.1 285.8,212.4 281.7,206.3 277.3,202.2" stroke-width="2.0"/>
<polyline points="370.0,163.3 365.3,166.7 363.6,175.2 365.3,185.3 368.6,193.8 372.0,198.8" stroke-width="2.0"/>
<polyline points="370.0,87.9 378.5,79.8 386.9,73.0 395.4,67.6 403.8,66.9 410.6,69.6" stroke-width="2.0"/>
<polyline points="398.8,50.0 403.8,60.1 410.6,69.6 420.7,75.4 430.9,82.1 441.0,88.9 449.5,95.7 454.6,104.1 463.0,110.2 471.5,112.6 478.3,117.7 488.4,121.0 505.3,121.7 522.2,123.7 532.4,119.4 542.5,114.3 552.7,110.9 562.8,105.8 576.4,102.4 586.5,95.7 593.3,94.0 606.8,94.7 622.0,93.3" stroke-width="2.0"/>
<polyline points="547.6,112.6 554.4,121.0 556.1,131.2 552.7,136.3 559.4,138.6 562.8,143.0 559.4,148.1 564.5,154.9 573.0,159.9 583.1,163.3 581.4,166.7 573.0,165.0 566.2,166.7 564.5,175.2 561.1,183.6 557.8,190.4" stroke-width="2.0"/>
<polyline points="370.0,161.6 380.1,166.7 390.3,173.5 397.1,178.6 402.1,171.8 410.6,165.0 420.7,163.3 429.2,159.9 437.7,163.3 446.1,168.4 454.6,166.7 463.0,170.1 473.2,171.8 481.6,173.5 490.1,175.2 500.2,172.5 508.7,169.1 518.8,170.1 529.0,173.5 539.1,178.6 545.9,183.6 547.6,188.7 554.4,190.4 562.8,187.0 573.0,185.3 581.4,187.0" stroke-width="2.0"/>
<polyline points="581.4,187.0 579.7,195.5 574.7,203.9 569.6,212.4 566.2,222.5 564.5,231.0 573.0,234.4 583.1,239.4 589.9,244.5 595.0,249.6" stroke-width="2.0"/>
<polyline points="366.6,193.8 370.0,198.8 375.1,203.9 380.1,212.4 383.5,222.5 386.9,232.7 393.7,242.8 397.1,249.6" stroke-width="2.0"/>
<polyline points="167.4,247.0 177.5,253.8 187.7,260.5 201.2,269.0 214.7,277.4 228.3,282.5 233.3,287.6 236.7,297.7 241.8,309.6 246.9,321.4 250.2,333.3 253.6,345.1 258.7,353.6 265.5,362.0 273.9,370.5 282.4,378.9 292.5,387.4 302.7,395.8 312.8,402.6 323.0,406.0 339.9,406.7 356.8,406.0 372.0,405.3" stroke-width="2.0"/>
<polyline points="159.9,256.5 162.3,254.4 165.7,255.5 166.0,259.2 163.3,261.2 160.3,259.9 159.9,256.5" stroke-width="2.0"/>
<polyline points="120.0,390.8 126.8,395.8 135.2,400.9 143.7,407.7 152.1,416.1 158.9,424.6 165.7,433.1" stroke-width="2.0"/>
<polyline points="312.8,247.0 319.6,253.8 326.4,260.5 329.7,262.2 328.1,257.1 321.3,251.1 317.9,247.0" stroke-width="2.0"/>
<polyline points="398.8,247.0 407.2,253.8 417.4,262.2 425.8,270.7 434.3,279.1 442.7,287.6 451.2,297.7 459.6,306.2 468.1,314.7 476.6,323.1 485.0,329.9 493.5,336.6 501.9,345.1 510.4,351.9 518.8,358.6 525.6,363.7" stroke-width="2.0"/>
<polyline points="366.6,270.7 370.0,275.8 376.8,282.5 383.5,289.3 393.7,287.6 407.2,285.9 420.7,291.0 430.9,296.1 441.0,302.8 451.2,311.3 461.3,319.7 471.5,328.2 481.6,335.0 491.8,343.4 501.9,351.9 512.1,360.3 522.2,367.1 532.4,372.2 542.5,375.6 551.0,380.6 557.8,389.1 564.5,399.2 571.3,407.7 579.7,412.8 588.2,416.1 593.3,422.9 595.0,433.1 593.3,446.6" stroke-width="2.0"/>
<polyline points="402.1,301.1 410.6,297.7 424.1,298.4 430.9,302.8 429.2,307.9 419.1,309.6 407.2,307.9 402.1,304.5 402.1,301.1" stroke-width="2.0"/>
<polyline points="402.1,313.0 414.0,314.7 427.5,316.4 444.4,317.4 443.7,319.4 427.5,319.4 414.0,318.0 403.8,316.0 402.1,313.0" stroke-width="2.0"/>
<polyline points="380.1,323.1 385.2,320.7 391.0,322.1 390.3,326.5 383.5,327.5 380.1,325.5 380.1,323.1" stroke-width="2.0"/>
<polyline points="415.7,328.2 427.5,329.9 441.0,328.2 454.6,329.9 468.1,331.6 478.3,335.6 468.1,334.3 454.6,333.3 441.0,332.3 427.5,333.3 417.4,331.6 415.7,328.2" stroke-width="2.0"/>
<polyline points="437.7,326.5 451.2,323.1 464.7,323.1 474.9,328.2 478.3,331.6 471.5,329.9 461.3,326.5 449.5,326.5 437.7,326.5" stroke-width="2.0"/>
<polyline points="456.3,342.4 466.4,343.4 476.6,346.8 481.6,348.5 478.3,350.2 468.1,347.8 458.0,345.1 456.3,342.4" stroke-width="2.0"/>
<polyline points="525.6,363.7 524.9,348.5 526.3,333.3 530.7,324.8 535.8,318.0 537.5,309.6 544.2,302.8 552.7,300.5 557.8,307.9 562.2,302.8 558.8,294.4 555.4,288.3 562.8,285.9 576.4,280.8 586.5,275.8 589.9,267.3 586.5,260.5 581.4,253.8 573.0,247.0" stroke-width="2.0"/>
<polyline points="562.8,285.9 573.0,291.0 586.5,297.7 600.0,307.9 611.9,316.4 622.0,319.7" stroke-width="2.0"/>
<polyline points="622.0,362.0 611.9,363.7 605.1,355.3 600.0,351.9 593.3,360.3 588.2,368.8 581.4,377.2 576.4,384.0 578.1,392.5 579.7,402.6 579.7,412.8" stroke-width="2.0"/>
<polyline points="527.3,367.1 532.4,365.4 539.1,367.1 537.5,370.5 530.7,371.5 527.3,367.1" stroke-width="2.0"/>
<polyline points="370.0,406.0 376.8,404.3 383.5,406.0 386.9,411.1 385.2,417.8 380.1,422.9 373.4,426.3 370.0,428.0" stroke-width="2.0"/>
<polyline points="288.9,385.0 297.4,391.8 305.8,398.5 317.7,403.6 331.2,407.0 344.7,408.0 358.3,407.0 371.8,404.6 381.9,405.3 388.7,410.4 389.4,417.1 385.3,422.2 376.9,425.6 370.1,430.7 371.8,439.1 378.6,445.9 388.7,449.3 398.8,454.4 409.0,459.4 419.1,464.5 429.3,469.6 439.4,473.0 449.6,478.0 459.7,483.1 469.9,488.2 480.0,493.3 490.2,501.7 502.0,508.5" stroke-width="2.0"/>
<polyline points="425.9,530.5 431.0,518.6 437.8,511.9 446.2,509.5 456.4,512.9 449.6,515.2 453.0,519.6 460.1,523.7 475.0,527.1 489.9,528.1 502.0,529.1" stroke-width="2.0"/>
<polyline points="500.0,506.2 503.8,512.5 512.5,520.0 521.2,526.2 526.2,531.2" stroke-width="2.0"/>
<polyline points="256.8,478.0 260.1,484.8 266.9,488.2 277.1,491.6 283.8,496.6 282.1,501.7 292.3,501.7 300.7,498.3 307.5,503.4 312.6,511.9 315.0,520.3 314.3,530.5" stroke-width="2.0"/>
<polyline points="558.8,390.0 565.0,397.5 567.5,405.0 575.0,410.0 585.0,411.2 592.5,415.0 595.0,422.5 593.8,430.0 588.8,436.2 586.2,443.8 587.5,452.5 588.8,462.5 586.2,472.5 588.8,480.0 585.0,486.2 581.2,492.5 577.5,500.0 580.0,505.0 586.2,512.5 587.5,520.0 585.0,526.2 580.0,520.0 576.2,516.2 578.8,522.5 583.8,531.2" stroke-width="2.0"/>
<polyline points="580.0,390.0 581.2,397.5 578.8,405.0 580.0,410.0" stroke-width="2.0"/>
<polyline points="120.0,395.0 127.5,400.0 135.0,402.5 145.0,412.5 152.5,420.0 162.5,430.0 170.0,437.5 177.5,441.2 187.5,446.2 195.0,452.5 200.0,456.2 207.5,455.5 215.0,453.8 225.0,455.5 235.0,456.2 242.5,460.0 247.5,463.8 256.2,465.0 257.0,476.2 257.5,478.0" stroke-width="2.0"/>
<polyline points="161.2,407.0 164.5,407.0 164.5,409.0 161.2,409.0 161.2,407.0" stroke-width="1.2"/>
</g>
<!-- logo box -->
<rect x="516.5" y="51" width="102" height="41.5" fill="#fff" stroke="#000" stroke-width="1"/>
<text x="529.7" y="78.4" font-size="19.6" fill="#1f1fff" stroke="#1f1fff" stroke-width="0.5">©<tspan dx="4.4">DHMZ</tspan></text>
<!-- legend box -->
<rect x="120.5" y="465.5" width="136" height="64" fill="#fff" stroke="#000" stroke-width="1"/>
<g font-size="10.6" fill="#111" text-anchor="end">
<text x="249" y="483.3" textLength="100.5" lengthAdjust="spacingAndGlyphs">Temperatura zraka</text>
<text x="249.3" y="497" textLength="77" lengthAdjust="spacingAndGlyphs">na 2m (st. C)</text>
<text x="249" y="510.3" textLength="111.5" lengthAdjust="spacingAndGlyphs">start 00z23may2013</text>
<text x="249" y="523.6" textLength="119.5" lengthAdjust="spacingAndGlyphs">termin 09Z24MAY2013</text>
</g>
<!-- frame -->
<rect x="120" y="51" width="499" height="479" fill="none" stroke="#000" stroke-width="2"/>
<g stroke="#000" stroke-width="1" fill="none">
<line x1="136.7" y1="531" x2="136.7" y2="534"/>
<line x1="197.0" y1="531" x2="197.0" y2="534"/>
<line x1="257.3" y1="531" x2="257.3" y2="534"/>
<line x1="317.6" y1="531" x2="317.6" y2="534"/>
<line x1="377.9" y1="531" x2="377.9" y2="534"/>
<line x1="438.2" y1="531" x2="438.2" y2="534"/>
<line x1="498.5" y1="531" x2="498.5" y2="534"/>
<line x1="558.8" y1="531" x2="558.8" y2="534"/>
<line x1="619.1" y1="531" x2="619.1" y2="534"/>
<line x1="116.5" y1="106.2" x2="119" y2="106.2"/>
<line x1="116.5" y1="180.1" x2="119" y2="180.1"/>
<line x1="116.5" y1="254.0" x2="119" y2="254.0"/>
<line x1="116.5" y1="327.9" x2="119" y2="327.9"/>
<line x1="116.5" y1="401.8" x2="119" y2="401.8"/>
<line x1="116.5" y1="475.7" x2="119" y2="475.7"/>
</g>
<g font-size="9.9" fill="#111">
<text x="136.7" y="544.3" text-anchor="middle" textLength="15.5" lengthAdjust="spacingAndGlyphs">12E</text>
<text x="197.0" y="544.3" text-anchor="middle" textLength="15.5" lengthAdjust="spacingAndGlyphs">13E</text>
<text x="257.3" y="544.3" text-anchor="middle" textLength="15.5" lengthAdjust="spacingAndGlyphs">14E</text>
<text x="317.6" y="544.3" text-anchor="middle" textLength="15.5" lengthAdjust="spacingAndGlyphs">15E</text>
<text x="377.9" y="544.3" text-anchor="middle" textLength="15.5" lengthAdjust="spacingAndGlyphs">16E</text>
<text x="438.2" y="544.3" text-anchor="middle" textLength="15.5" lengthAdjust="spacingAndGlyphs">17E</text>
<text x="498.5" y="544.3" text-anchor="middle" textLength="15.5" lengthAdjust="spacingAndGlyphs">18E</text>
<text x="558.8" y="544.3" text-anchor="middle" textLength="15.5" lengthAdjust="spacingAndGlyphs">19E</text>
<text x="619.1" y="544.3" text-anchor="middle" textLength="15.5" lengthAdjust="spacingAndGlyphs">20E</text>
<text x="114.5" y="110.3" text-anchor="end" textLength="17" lengthAdjust="spacingAndGlyphs">46N</text>
<text x="114.5" y="184.2" text-anchor="end" textLength="17" lengthAdjust="spacingAndGlyphs">45N</text>
<text x="114.5" y="258.1" text-anchor="end" textLength="17" lengthAdjust="spacingAndGlyphs">44N</text>
<text x="114.5" y="332.0" text-anchor="end" textLength="17" lengthAdjust="spacingAndGlyphs">43N</text>
<text x="114.5" y="405.9" text-anchor="end" textLength="17" lengthAdjust="spacingAndGlyphs">42N</text>
<text x="114.5" y="479.8" text-anchor="end" textLength="17" lengthAdjust="spacingAndGlyphs">41N</text>
</g>
<g font-size="15" fill="#111" stroke="#fff" stroke-width="0.3"><text x="170.0" y="39.6" textLength="99.5" lengthAdjust="spacingAndGlyphs">Temperatura</text><text x="279.0" y="39.6" textLength="41.0" lengthAdjust="spacingAndGlyphs">zraka</text><text x="330.7" y="39.6" textLength="19.5" lengthAdjust="spacingAndGlyphs">na</text><text x="358.8" y="39.6" textLength="25.0" lengthAdjust="spacingAndGlyphs">2m</text><text x="393.0" y="39.6" textLength="9.5" lengthAdjust="spacingAndGlyphs">u</text><text x="410.8" y="39.6" textLength="22.0" lengthAdjust="spacingAndGlyphs">09</text><text x="441.5" y="39.6" textLength="29.5" lengthAdjust="spacingAndGlyphs">UTC</text><text x="479.5" y="39.6" textLength="91.5" lengthAdjust="spacingAndGlyphs">24MAY2013</text></g>
<!-- colour bar -->
<g shape-rendering="crispEdges">
<rect x="652" y="77.10" width="15" height="18.92" fill="#ffefdb"/>
<rect x="652" y="95.72" width="15" height="18.92" fill="#d8bfd8"/>
<rect x="652" y="114.34" width="15" height="18.92" fill="#dda0dd"/>
<rect x="652" y="132.96" width="15" height="18.92" fill="#ba55d3"/>
<rect x="652" y="151.58" width="15" height="18.92" fill="#8b008b"/>
<rect x="652" y="170.20" width="15" height="18.92" fill="#a00000"/>
<rect x="652" y="188.82" width="15" height="18.92" fill="#cd0000"/>
<rect x="652" y="207.44" width="15" height="18.92" fill="#ff0000"/>
<rect x="652" y="226.06" width="15" height="18.92" fill="#ff5a00"/>
<rect x="652" y="244.68" width="15" height="18.92" fill="#f08228"/>
<rect x="652" y="263.30" width="15" height="18.92" fill="#e6af2d"/>
<rect x="652" y="281.92" width="15" height="18.92" fill="#e6dc32"/>
<rect x="652" y="300.54" width="15" height="18.92" fill="#f5f064"/>
<rect x="652" y="319.16" width="15" height="18.92" fill="#e6f5a0"/>
<rect x="652" y="337.78" width="15" height="18.92" fill="#a0e632"/>
<rect x="652" y="356.40" width="15" height="18.92" fill="#00dc00"/>
<rect x="652" y="375.02" width="15" height="18.92" fill="#00b400"/>
<rect x="652" y="393.64" width="15" height="18.92" fill="#008000"/>
<rect x="652" y="412.26" width="15" height="18.92" fill="#1e3cff"/>
<rect x="652" y="430.88" width="15" height="18.92" fill="#00a0e6"/>
<rect x="652" y="449.50" width="15" height="18.92" fill="#b0e0e6"/>
<rect x="652" y="468.12" width="15" height="18.92" fill="#f0ffff"/>
</g>
<g font-size="11.8" fill="#111">
<text x="670" y="81.3" textLength="15.2" lengthAdjust="spacingAndGlyphs">29</text>
<text x="670" y="99.9" textLength="15.2" lengthAdjust="spacingAndGlyphs">27</text>
<text x="670" y="118.5" textLength="15.2" lengthAdjust="spacingAndGlyphs">25</text>
<text x="670" y="137.2" textLength="15.2" lengthAdjust="spacingAndGlyphs">23</text>
<text x="670" y="155.8" textLength="15.2" lengthAdjust="spacingAndGlyphs">21</text>
<text x="670" y="174.4" textLength="15.2" lengthAdjust="spacingAndGlyphs">19</text>
<text x="670" y="193.0" textLength="15.2" lengthAdjust="spacingAndGlyphs">17</text>
<text x="670" y="211.6" textLength="15.2" lengthAdjust="spacingAndGlyphs">15</text>
<text x="670" y="230.3" textLength="15.2" lengthAdjust="spacingAndGlyphs">13</text>
<text x="670" y="248.9" textLength="15.2" lengthAdjust="spacingAndGlyphs">11</text>
<text x="670" y="267.5" textLength="7.2" lengthAdjust="spacingAndGlyphs">9</text>
<text x="670" y="286.1" textLength="7.2" lengthAdjust="spacingAndGlyphs">7</text>
<text x="670" y="304.7" textLength="7.2" lengthAdjust="spacingAndGlyphs">5</text>
<text x="670" y="323.4" textLength="7.2" lengthAdjust="spacingAndGlyphs">3</text>
<text x="670" y="342.0" textLength="7.2" lengthAdjust="spacingAndGlyphs">1</text>
<text x="670.5" y="360.6" textLength="8.5" lengthAdjust="spacingAndGlyphs">−</text><text x="682" y="360.6" textLength="7.0" lengthAdjust="spacingAndGlyphs">1</text>
<text x="670.5" y="379.2" textLength="8.5" lengthAdjust="spacingAndGlyphs">−</text><text x="682" y="379.2" textLength="7.0" lengthAdjust="spacingAndGlyphs">3</text>
<text x="670.5" y="397.8" textLength="8.5" lengthAdjust="spacingAndGlyphs">−</text><text x="682" y="397.8" textLength="7.0" lengthAdjust="spacingAndGlyphs">5</text>
<text x="670.5" y="416.5" textLength="8.5" lengthAdjust="spacingAndGlyphs">−</text><text x="682" y="416.5" textLength="7.0" lengthAdjust="spacingAndGlyphs">7</text>
<text x="670.5" y="435.1" textLength="8.5" lengthAdjust="spacingAndGlyphs">−</text><text x="682" y="435.1" textLength="7.0" lengthAdjust="spacingAndGlyphs">9</text>
<text x="670.5" y="453.7" textLength="8.5" lengthAdjust="spacingAndGlyphs">−</text><text x="682" y="453.7" textLength="14.3" lengthAdjust="spacingAndGlyphs">11</text>
<text x="670.5" y="472.3" textLength="8.5" lengthAdjust="spacingAndGlyphs">−</text><text x="682" y="472.3" textLength="14.3" lengthAdjust="spacingAndGlyphs">13</text>
<text x="670.5" y="490.9" textLength="8.5" lengthAdjust="spacingAndGlyphs">−</text><text x="682" y="490.9" textLength="14.3" lengthAdjust="spacingAndGlyphs">15</text>
<text x="670.5" y="509.6" textLength="8.5" lengthAdjust="spacingAndGlyphs">−</text><text x="682" y="509.6" textLength="14.3" lengthAdjust="spacingAndGlyphs">17</text>
<text x="665" y="528.5" font-size="10.6" textLength="34.5" lengthAdjust="spacingAndGlyphs">(st. C)</text>
</g>
</svg>
</body></html>
